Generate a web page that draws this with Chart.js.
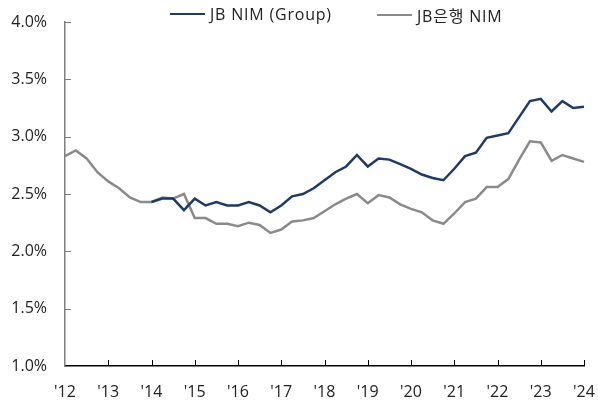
<!DOCTYPE html>
<html>
<head>
<meta charset="utf-8">
<script src="https://cdn.jsdelivr.net/npm/chart.js@4"></script>
<style>
  html, body { margin: 0; padding: 0; background: #fff; }
  #wrap { position: relative; width: 598px; height: 401px; }
  .leg { position: absolute; top: 3px; font: 16px "Open Sans", "Noto Sans CJK KR", sans-serif; letter-spacing: 0.8px; color: #222; display: flex; align-items: center; white-space: nowrap; }
  .leg i { display: inline-block; width: 35px; height: 2px; margin-right: 5px; }
</style>
</head>
<body>
<div id="wrap">
  <canvas id="nim-chart" width="598" height="401"></canvas>
  <div class="leg" style="left:170px"><i style="background:#1d3b66"></i>JB NIM (Group)</div>
  <div class="leg" style="left:377px"><i style="background:#8a8a8a"></i>JB은행 NIM</div>
</div>
<script>
// 분기별 NIM (%), 1Q12 ~ 1Q24
const YEARS = ["'12","'13","'14","'15","'16","'17","'18","'19","'20","'21","'22","'23","'24"];
const QUARTERS = [];
YEARS.forEach((y, i) => {
  QUARTERS.push(y);
  if (i < YEARS.length - 1) QUARTERS.push('', '', '');
});

const NIM_GROUP = [
  null, null, null, null,
  null, null, null, null,
  2.43, 2.46, 2.46, 2.36,
  2.46, 2.40, 2.43, 2.40,
  2.40, 2.43, 2.40, 2.34,
  2.40, 2.48, 2.50, 2.55,
  2.62, 2.69, 2.74, 2.84,
  2.74, 2.81, 2.80, 2.76,
  2.72, 2.67, 2.64, 2.62,
  2.72, 2.83, 2.86, 2.99,
  3.01, 3.03, 3.17, 3.31,
  3.33, 3.22, 3.31, 3.25,
  3.26
];

const NIM_BANK = [
  2.83, 2.88, 2.81, 2.69,
  2.61, 2.55, 2.47, 2.43,
  2.43, 2.47, 2.46, 2.50,
  2.29, 2.29, 2.24, 2.24,
  2.22, 2.25, 2.23, 2.16,
  2.19, 2.26, 2.27, 2.29,
  2.35, 2.41, 2.46, 2.50,
  2.42, 2.49, 2.47, 2.41,
  2.37, 2.34, 2.27, 2.24,
  2.33, 2.43, 2.46, 2.56,
  2.56, 2.63, 2.80, 2.96,
  2.95, 2.79, 2.84, 2.81,
  2.78
];

const FONT = { family: '"Open Sans", "Noto Sans CJK KR", sans-serif', size: 16 };

// 안쪽으로 향하는 눈금
const innerTicks = {
  id: 'innerTicks',
  afterDraw(chart) {
    const { ctx, chartArea: a, scales } = chart;
    ctx.save();
    ctx.lineWidth = 1;
    ctx.strokeStyle = '#7f7f7f';
    scales.y.ticks.forEach((t, i) => {
      const y = Math.round(scales.y.getPixelForTick(i)) + 0.5;
      ctx.beginPath(); ctx.moveTo(a.left, y); ctx.lineTo(a.left + 6, y); ctx.stroke();
    });
    ctx.strokeStyle = '#000';
    QUARTERS.forEach((q, i) => {
      if (i % 4 !== 0 || i === 0) return;
      const x = Math.round(scales.x.getPixelForValue(i)) + 0.5;
      ctx.beginPath(); ctx.moveTo(x, a.bottom); ctx.lineTo(x, a.bottom - 6); ctx.stroke();
    });
    ctx.restore();
  }
};

new Chart(document.getElementById('nim-chart').getContext('2d'), {
  type: 'line',
  data: {
    labels: QUARTERS,
    datasets: [
      {
        label: 'JB은행 NIM',
        data: NIM_BANK,
        borderColor: '#8a8a8a',
        borderWidth: 2.5,
        pointRadius: 0,
        tension: 0,
        order: 2
      },
      {
        label: 'JB NIM (Group)',
        data: NIM_GROUP,
        borderColor: '#1d3b66',
        borderWidth: 2.5,
        pointRadius: 0,
        tension: 0,
        order: 1
      }
    ]
  },
  options: {
    responsive: false,
    animation: false,
    layout: { padding: { top: 22, right: 14, left: 0, bottom: 0 } },
    plugins: { legend: { display: false }, tooltip: { enabled: false } },
    scales: {
      x: {
        offset: false,
        grid: { display: false },
        border: { color: '#000', width: 1.5 },
        ticks: {
          autoSkip: false, maxRotation: 0, color: '#222', font: FONT, padding: 9,
          callback: (v, i) => (i % 4 === 0 ? QUARTERS[i] : null)
        },
        afterFit: s => { s.height = 35; s.paddingLeft = 0; s.paddingRight = 0; }
      },
      y: {
        min: 1, max: 4,
        grid: { display: false },
        border: { color: '#7f7f7f', width: 1.5 },
        ticks: { stepSize: 0.5, color: '#222', font: FONT, padding: 10, callback: v => v.toFixed(1) + '%' },
        afterFit: s => { s.width = 65; s.paddingTop = 0; s.paddingBottom = 0; }
      }
    }
  },
  plugins: [innerTicks]
});
</script>
</body>
</html>
